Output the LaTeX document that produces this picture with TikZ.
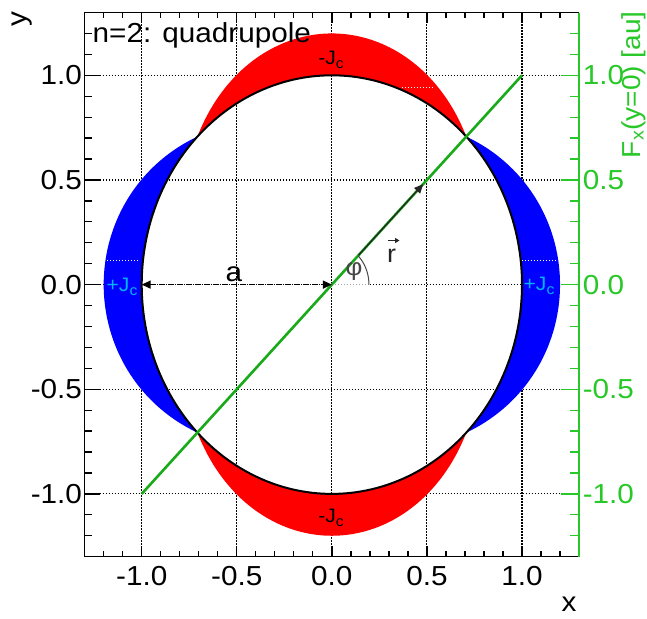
\documentclass[tikz,border=0pt]{standalone}
\usepackage{fontspec}
\setmainfont{Liberation Sans}[FakeStretch=1.08]
\usetikzlibrary{arrows.meta}
\definecolor{axgreen}{RGB}{40,200,40}
\definecolor{lngreen}{RGB}{25,170,25}
\definecolor{jcyan}{RGB}{0,180,255}
\definecolor{phigray}{RGB}{70,70,70}
\definecolor{pureblue}{RGB}{0,0,255}
\definecolor{purered}{RGB}{255,0,0}
\newcommand\myJc{J\raisebox{-4pt}{\fontsize{14.5}{15}\selectfont c}}
\tikzset{
  lbl/.style={inner sep=0pt, font=\fontsize{27.5}{30}\selectfont},
  jlbl/.style={inner sep=0pt, font=\fontsize{19.5}{20}\selectfont},
  gridline/.style={line width=1.1pt, dash pattern=on 1.2pt off 1.8pt, black},
  whitedots/.style={line width=1.1pt, dash pattern=on 1.2pt off 1.8pt, white},
  tickline/.style={line width=1.3pt},
  headtip/.tip={Triangle[length=9pt,width=8pt]},
  smalltip/.tip={Triangle[length=4.5pt,width=5pt]},
}
\begin{document}
\begin{tikzpicture}[x=1pt,y=-1pt]
\useasboundingbox (0,0) rectangle (647,618);
\fill[white] (0,0) rectangle (647,618);
\begin{scope}[shift={(331.85,284.6)}, x=190.15pt, y=209.3pt]
  % grid
  \foreach \g in {-1,-0.5,0,0.5,1} {
    \draw[gridline] (\g,-1.3) -- (\g,1.3);
    \draw[gridline] (-1.3,\g) -- (1.3,\g);
  }
  % red crescents (-J_c)
  \fill[purered] plot[domain=45:135, samples=91] ({(1+0.2*abs(cos(2*\x)))*cos(\x)},{(1+0.2*abs(cos(2*\x)))*sin(\x)})
     -- plot[domain=135:45, samples=91] ({cos(\x)},{sin(\x)}) -- cycle;
  \fill[purered] plot[domain=225:315, samples=91] ({(1+0.2*abs(cos(2*\x)))*cos(\x)},{(1+0.2*abs(cos(2*\x)))*sin(\x)})
     -- plot[domain=315:225, samples=91] ({cos(\x)},{sin(\x)}) -- cycle;
  % blue crescents (+J_c)
  \fill[pureblue] plot[domain=-45:45, samples=91] ({(1+0.2*abs(cos(2*\x)))*cos(\x)},{(1+0.2*abs(cos(2*\x)))*sin(\x)})
     -- plot[domain=45:-45, samples=91] ({cos(\x)},{sin(\x)}) -- cycle;
  \fill[pureblue] plot[domain=135:225, samples=91] ({(1+0.2*abs(cos(2*\x)))*cos(\x)},{(1+0.2*abs(cos(2*\x)))*sin(\x)})
     -- plot[domain=225:135, samples=91] ({cos(\x)},{sin(\x)}) -- cycle;
  % white dotted segments
  \draw[whitedots] (-1.182,0.117) -- (-1.009,0.117);
  \draw[whitedots] (0.998,0.117) -- (1.182,0.117);
  \draw[whitedots] (0.367,0.943) -- (0.532,0.943);
  % circle
  \draw[black, line width=2pt] plot[domain=0:360, samples=241] ({cos(\x)},{sin(\x)}) -- cycle;
  % key points
  \coordinate (O) at (0,0);
  \coordinate (A) at (-1,0);
  \coordinate (G1) at (-1,-1);
  \coordinate (G2) at (1,1);
  \coordinate (Rtail) at (0.14,0.14);
  \coordinate (Rtip) at (0.48,0.48);
  \coordinate (B) at (0.2,0);
  % reference baseline for phi
  \draw[white, line width=1.6pt] (O) -- (B);
  \draw[gray!70, line width=1pt, dash pattern=on 1.2pt off 1.8pt] (O) -- (B);
  % green line
  \draw[lngreen, line width=2.6pt] (G1) -- (G2);
  % r vector
  \draw[black!85, line width=1.3pt, -{headtip}] (Rtail) -- (Rtip);
  % a arrow
  \draw[black, line width=1.5pt, dash pattern=on 6pt off 3pt, {headtip}-{headtip}] (A) -- (O);
  % phi arc
  \draw[phigray, line width=1pt] plot[domain=0:45, samples=30] ({0.195*cos(\x)},{0.195*sin(\x)});
  % ticks
  \foreach \i in {-12,...,12} {
    \draw[tickline] (\i/10,-1.3) -- ++(0pt,5.7pt);
    \draw[tickline] (\i/10,1.3) -- ++(0pt,-5.5pt);
    \draw[tickline] (-1.3,\i/10) -- ++(7.2pt,0pt);
    \draw[tickline, axgreen] (1.3,\i/10) -- ++(-9pt,0pt);
  }
  \foreach \g in {-1,-0.5,0,0.5,1} {
    \draw[tickline] (\g,-1.3) -- ++(0pt,10.3pt);
    \draw[tickline] (\g,1.3) -- ++(0pt,-10.5pt);
    \draw[tickline] (-1.3,\g) -- ++(15.3pt,0pt);
    \draw[tickline, axgreen] (1.3,\g) -- ++(-18.3pt,0pt);
  }
  % frame
  \draw[black, line width=1.5pt] (1.3,1.3) -- (-1.3,1.3) -- (-1.3,-1.3) -- (1.3,-1.3);
  \draw[axgreen, line width=1.5pt] (1.3,-1.3) -- (1.3,1.3);
  % tick labels
  \foreach \g [count=\k] in {-1.0,-0.5,0.0,0.5,1.0} {
    \node[lbl, anchor=center, yshift=-19.3pt] (bx\k) at (\g,-1.3) {\g};
    \node[lbl, anchor=east, xshift=-2.5pt] (ly\k) at (-1.3,\g) {\g};
    \node[lbl, anchor=west, xshift=3.5pt, text=axgreen] (ry\k) at (1.3,\g) {\g};
  }
\end{scope}
% in-plot labels (pixel coordinates)
\node[jlbl, anchor=base] (jtop) at (331,64) {-\myJc};
\node[jlbl, anchor=base] (jbot) at (331,522) {-\myJc};
\node[jlbl, anchor=base, text=jcyan] (jleft) at (122,291.5) {+\myJc};
\node[jlbl, anchor=base, text=jcyan] (jright) at (539,290.5) {+\myJc};
\node[lbl, anchor=base] (alab) at (234,281.7) {a};
\node[inner sep=0pt, font=\fontsize{24}{26}\selectfont, text=phigray] (philab) at (354,272) {φ};
\node[inner sep=0pt, font=\fontsize{25}{27}\selectfont, text=black!85, anchor=base] (rlab) at (391.5,262.5) {r};
\coordinate (rvA) at (387.5,240.5);
\coordinate (rvB) at (399.5,240.5);
\draw[black!85, line width=1.2pt, -{smalltip}] (rvA) -- (rvB);
\node[lbl, anchor=base west] (title) at (92.5,42) {n=2: quadrupole};
% axis titles
\node[lbl, rotate=90] (ytitle) at (22,19) {y};
\node[lbl] (xtitle) at (569,604) {x};
\node[inner sep=0pt, font=\fontsize{26}{28}\selectfont, rotate=90, anchor=base east, text=axgreen] (ftitle) at (640,11) {F\textsubscript{x}(y=0) [au]};
\end{tikzpicture}
\end{document}
